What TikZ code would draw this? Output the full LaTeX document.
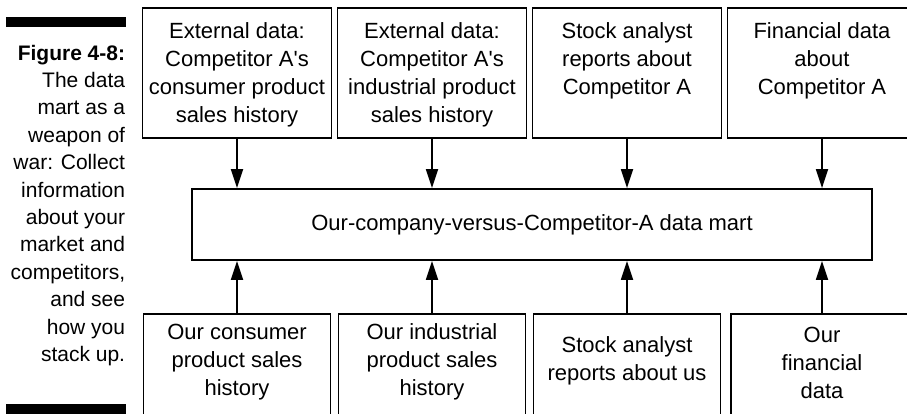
\documentclass[tikz,border=0pt]{standalone}
\usepackage{fontspec}
\setmainfont{Liberation Sans}
\usetikzlibrary{arrows.meta,positioning}

\begin{document}
\begin{tikzpicture}[x=1pt,y=-1pt,>={Triangle[length=19pt,width=12pt]},line width=1.8pt,
	box/.style={rectangle,draw,minimum width=189pt,minimum height=130pt,inner sep=0pt,anchor=north},
	lowbox/.style={rectangle,draw,minimum width=187pt,minimum height=120pt,inner sep=0pt,anchor=north},
	boxtext/.style={align=center,inner sep=0pt}]
	\tikzstyle{every node}=[font=\fontsize{22}{28}\selectfont]
	\useasboundingbox (0,0) rectangle (907,413);
	\clip (0,0) rectangle (907,413);

	% caption with the two bars
	\fill (6,17) rectangle (126,27);
	\fill (6,404) rectangle (126,415);
	\node[align=right,inner sep=0pt,anchor=north east,font=\fontsize{21}{27.4}\selectfont] (caption) at (126,44)
		{\textbf{Figure 4-8:}\\The data\\mart as a\\weapon of\\war: Collect\\information\\about your\\market and\\competitors,\\and see\\how you\\stack up.};

	% competitor sources
	\draw
		(237,7) node(ca) [box] {}
		(432,7) node(ci) [box] {}
		(627,7) node(cs) [box] {}
		(822,7) node(cf) [box] {};
	\node[boxtext,below=15pt of ca.north] (catext) {External data:\\Competitor A\textquotesingle s\\consumer product\\sales history};
	\node[boxtext,below=15pt of ci.north] (citext) {External data:\\Competitor A\textquotesingle s\\industrial product\\sales history};
	\node[boxtext,below=15pt of cs.north] (cstext) {Stock analyst\\reports about\\Competitor A};
	\node[boxtext,below=15pt of cf.north] (cftext) {Financial data\\about\\Competitor A};

	% the data mart
	\node[rectangle,draw,minimum width=680pt,minimum height=71pt] (mart) at (532,224.5)
		{Our-company-versus-Competitor-A data mart};

	% our own sources
	\draw
		(237,313) node(oc) [lowbox] {}
		(432,313) node(oi) [lowbox] {}
		(627,313) node(os) [lowbox] {}
		(822,313) node(of) [lowbox,minimum width=182pt] {};
	\node[boxtext] (octext) at ([yshift=-49pt]oc.north) {Our consumer\\product sales\\history};
	\node[boxtext] (oitext) at ([yshift=-49pt]oi.north) {Our industrial\\product sales\\history};
	\node[boxtext] (ostext) at ([yshift=-48pt]os.north) {Stock analyst\\reports about us};
	\node[boxtext] (oftext) at ([yshift=-50pt]of.north) {Our\\financial\\data};

	\draw [->] (ca) -- (ca |- mart.north);
	\draw [->] (ci) -- (ci |- mart.north);
	\draw [->] (cs) -- (cs |- mart.north);
	\draw [->] (cf) -- (cf |- mart.north);
	\draw [->] (oc) -- (oc |- mart.south);
	\draw [->] (oi) -- (oi |- mart.south);
	\draw [->] (os) -- (os |- mart.south);
	\draw [->] (of) -- (of |- mart.south);
\end{tikzpicture}
\end{document}
